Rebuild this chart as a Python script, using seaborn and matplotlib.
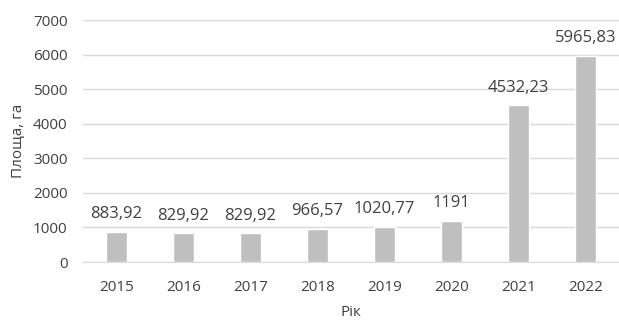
import numpy as np
import matplotlib
matplotlib.use("Agg")
import matplotlib.pyplot as plt
import pandas as pd
import seaborn as sns

years = ["2015", "2016", "2017", "2018", "2019", "2020", "2021", "2022"]
area = [883.92, 829.92, 829.92, 966.57, 1020.77, 1191, 4532.23, 5965.83]
labels = ["883,92", "829,92", "829,92", "966,57", "1020,77", "1191", "4532,23", "5965,83"]

sns.set_style("white")
plt.rcParams['font.family'] = ['Open Sans', 'DejaVu Sans']
txt = "#404040"

df = pd.DataFrame({"year": years, "area": area})

fig = plt.figure(figsize=(6.19, 3.20), dpi=100)
ax = fig.add_axes([0.134, 0.181, 0.866, 0.7565])

sns.barplot(data=df, x="year", y="area", color="#BFBFBF", width=0.32,
            saturation=1, ax=ax, zorder=3)

for i, (v, t) in enumerate(zip(area, labels)):
    ax.annotate(t, (i, v), xytext=(0, 12.6), textcoords="offset points",
                ha="center", va="center", fontsize=12, color=txt)

ax.set_ylim(0, 7000)
ax.set_yticks(range(0, 7001, 1000))
ax.set_xlim(-0.5, 7.5)
ax.grid(axis="y", color="#D9D9D9", linewidth=1, zorder=0)
for s in ["top", "right", "left"]:
    ax.spines[s].set_visible(False)
ax.spines["bottom"].set_color("#D9D9D9")
ax.tick_params(axis="both", length=0, labelsize=11, colors=txt)
ax.tick_params(axis="x", pad=13)
ax.tick_params(axis="y", pad=11)
ax.set_xlabel("Рік", fontsize=11, color=txt, labelpad=7)
ax.set_ylabel("Площа, га", fontsize=11, color=txt, labelpad=5)

fig.savefig("out.png", dpi=100)
